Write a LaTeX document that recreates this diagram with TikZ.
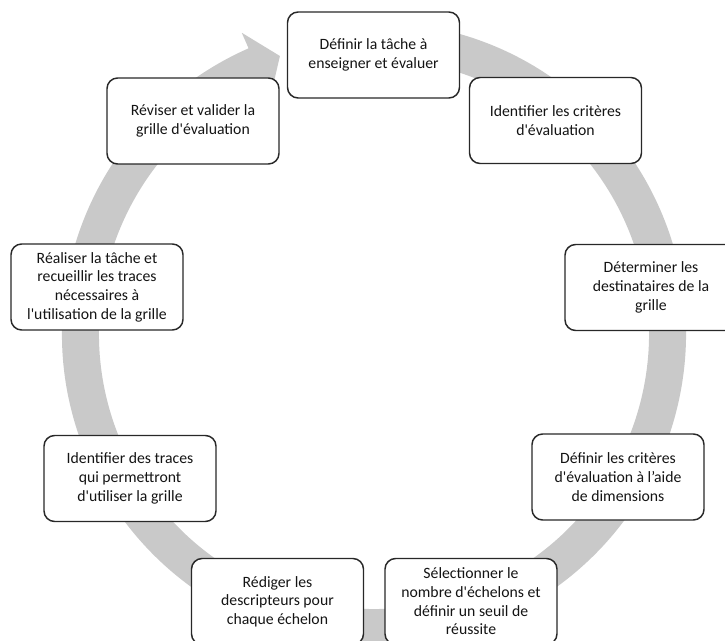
\documentclass[tikz,border=0pt]{standalone}
\usepackage{fontspec}
\setmainfont{Carlito}
\newcommand{\ap}{\textquotesingle}
\definecolor{ringgray}{RGB}{201,201,201}
\definecolor{boxline}{RGB}{40,40,40}
\definecolor{boxtext}{RGB}{20,20,20}
\tikzset{
  stepbox/.style={draw=boxline, line width=1.1pt, fill=white, rounded corners=8pt,
    minimum width=129pt, minimum height=64.5pt, align=center, inner sep=2pt,
    text=boxtext, font=\fontsize{11.8}{14}\selectfont}
}
\begin{document}
\begin{tikzpicture}[x=0.75pt,y=0.75pt]
\useasboundingbox (0,0) rectangle (725,640);
\clip (0,0) rectangle (725,640);
\fill[white] (0,0) rectangle (725,640);

% circular arrow running clockwise, head at top left
\begin{scope}[shift={(374,306)}]
  \fill[ringgray] (80:312) arc[start angle=80, end angle=-246.3, radius=312]
    -- (113.7:329) -- (108.7:293.5) -- (113.7:258) -- (113.7:275)
    arc[start angle=-246.3, end angle=80, radius=275] -- cycle;
\end{scope}

% steps of the cycle
\node[stepbox] (s1) at (373.5,585) {Définir la tâche à\\enseigner et évaluer};
\node[stepbox] (s2) at (555.5,519.5) {Identifier les critères\\d\ap évaluation};
\node[stepbox] (s3) at (651,352.5) {Déterminer les\\destinataires de la\\grille};
\node[stepbox] (s4) at (618,163) {Définir les critères\\d\ap évaluation à l’aide\\de dimensions};
\node[stepbox] (s5) at (471,38.5) {Sélectionner le\\nombre d\ap échelons et\\définir un seuil de\\réussite};
\node[stepbox] (s6) at (277.5,38.5) {Rédiger les\\descripteurs pour\\chaque échelon};
\node[stepbox] (s7) at (130,161.5) {Identifier des traces\\qui permettront\\d\ap utiliser la grille};
\node[stepbox] (s8) at (97,353) {Réaliser la tâche et\\recueillir les traces\\nécessaires à\\l\ap utilisation de la grille};
\node[stepbox] (s9) at (193,519) {Réviser et valider la\\grille d\ap évaluation};
\end{tikzpicture}
\end{document}
